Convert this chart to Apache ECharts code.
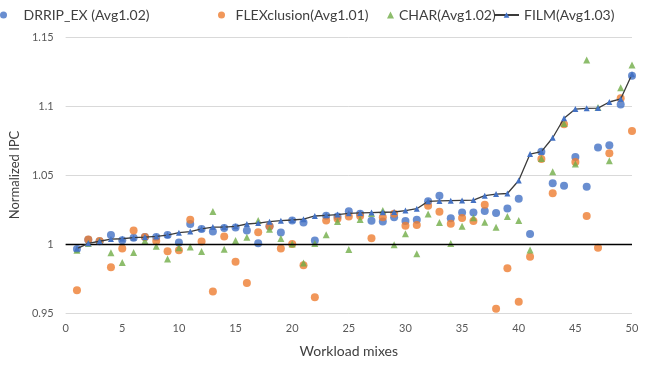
<!DOCTYPE html>
<html>
<head>
<meta charset="utf-8">
<script src="https://cdn.jsdelivr.net/npm/echarts@6/dist/echarts.min.js"></script>
<style>
  html, body { margin: 0; padding: 0; background: #ffffff; }
  #chart { width: 647px; height: 365px; }
</style>
</head>
<body>
<div id="chart"></div>
<script>
// Workload mix index (x) for every series
const mixes = [1, 2, 3, 4, 5, 6, 7, 8, 9, 10, 11, 12, 13, 14, 15, 16, 17, 18, 19, 20,
  21, 22, 23, 24, 25, 26, 27, 28, 29, 30, 31, 32, 33, 34, 35, 36, 37, 38, 39, 40,
  41, 42, 43, 44, 45, 46, 47, 48, 49, 50];

// Normalized IPC per policy
const drripEx = [0.9964, 1.003, 1.002, 1.0065, 1.0027, 1.0045, 1.005, 1.005, 1.0065, 1.001,
  1.0145, 1.0108, 1.009, 1.0116, 1.012, 1.0097, 1.0006, 1.0128, 1.0083, 1.017,
  1.0155, 1.0026, 1.0205, 1.02, 1.0238, 1.022, 1.0169, 1.0163, 1.0193, 1.0166,
  1.0175, 1.031, 1.0349, 1.0187, 1.0228, 1.0229, 1.024, 1.0225, 1.0258, 1.0328,
  1.0072, 1.0669, 1.044, 1.0423, 1.063, 1.0415, 1.07, 1.0715, 1.101, 1.122];

const flexclusion = [0.9664, 1.0033, 1.0022, 0.9832, 0.9968, 1.0098, 1.005, 1.0022, 0.9948, 0.9954,
  1.0175, 1.0018, 0.9655, 1.0055, 0.9871, 0.9718, 1.0085, 1.0128, 0.9967, 1.0,
  0.9846, 0.9615, 1.017, 1.0183, 1.02, 1.0202, 1.0042, 1.0193, 1.022, 1.0132,
  1.0137, 1.0277, 1.0234, 1.0146, 1.0188, 1.0166, 1.0284, 0.953, 0.9824, 0.9582,
  0.9908, 1.0616, 1.0367, 1.0867, 1.0594, 1.0203, 0.9973, 1.0657, 1.1056, 1.0819];

const charIpc = [0.9955, 1.0004, 1.002, 0.9936, 0.9866, 0.9938, 1.0024, 0.9983, 0.9892, 0.9973,
  0.9978, 0.9946, 1.0235, 0.9962, 1.0025, 1.0049, 1.017, 1.0106, 1.004, 1.0,
  0.9863, 1.0003, 1.0067, 1.0163, 0.996, 1.0178, 1.0221, 1.0242, 0.9994, 1.0074,
  0.9929, 1.0218, 1.0156, 1.0003, 1.0129, 1.019, 1.0157, 1.0121, 1.02, 1.017,
  0.9957, 1.062, 1.0524, 1.0874, 1.058, 1.1333, 1.099, 1.0604, 1.1133, 1.1297];

const film = [0.9966, 1.0005, 1.002, 1.0036, 1.0038, 1.0046, 1.005, 1.0055, 1.0065, 1.0082,
  1.009, 1.011, 1.0123, 1.0123, 1.0128, 1.0145, 1.0152, 1.0162, 1.0169, 1.0174,
  1.018, 1.0203, 1.0208, 1.0213, 1.0222, 1.0225, 1.0228, 1.023, 1.0232, 1.0242,
  1.0256, 1.0309, 1.0312, 1.0314, 1.0316, 1.0318, 1.035, 1.0362, 1.0366, 1.046,
  1.0652, 1.0669, 1.077, 1.0911, 1.0978, 1.0983, 1.0985, 1.1029, 1.1051, 1.123];

const seriesNames = ['DRRIP_EX (Avg1.02)', 'FLEXclusion(Avg1.01)', 'CHAR(Avg1.02)', 'FILM(Avg1.03)'];
const yTicks = [0.95, 1, 1.05, 1.1, 1.15];
const xTicks = [0, 5, 10, 15, 20, 25, 30, 35, 40, 45, 50];

const pairs = (vals) => mixes.map((x, i) => [x, vals[i]]);
const FONT = 'Lato, "Open Sans", sans-serif';
const LABEL = '#595959';
const BLUE = '#4472C4', ORANGE = '#ED7D31', GREEN = '#70AD47';

// One legend block per series so each key sits in its own slot
const legendText = { fontSize: 14, color: '#404040', fontFamily: FONT };
function legendItem(name, left, w, h, icon, extra) {
  return Object.assign({
    top: 8, left: left, padding: 0,
    itemWidth: w, itemHeight: h,
    textStyle: legendText,
    data: [icon ? { name: name, icon: icon } : { name: name }]
  }, extra || {});
}

const chart = echarts.init(document.getElementById('chart'), null, { renderer: 'canvas' });

chart.setOption({
  animation: false,
  backgroundColor: '#ffffff',
  textStyle: { fontFamily: FONT },
  legend: [
    legendItem(seriesNames[0], 0, 18, 7, 'circle', { textStyle: Object.assign({ padding: [0, 0, 0, 6] }, legendText) }),
    legendItem(seriesNames[1], 218, 18, 7, 'circle'),
    legendItem(seriesNames[2], 387, 7, 7, 'triangle'),
    legendItem(seriesNames[3], 493, 25, 7, null)
  ],
  grid: { left: 63, right: 15, top: 37, bottom: 52 },
  xAxis: {
    type: 'value',
    min: xTicks[0],
    max: xTicks[xTicks.length - 1],
    interval: 5,
    name: 'Workload mixes',
    nameLocation: 'middle',
    nameGap: 31,
    nameTextStyle: { fontSize: 14, color: '#404040' },
    axisLine: { show: false },
    axisTick: { show: false },
    splitLine: { show: false },
    axisLabel: { fontSize: 11, color: LABEL, margin: 10 }
  },
  yAxis: {
    type: 'value',
    min: yTicks[0],
    max: yTicks[yTicks.length - 1],
    interval: 0.05,
    name: 'Normalized IPC',
    nameLocation: 'middle',
    nameGap: 43,
    nameTextStyle: { fontSize: 13, color: '#404040' },
    axisLine: { show: false },
    axisTick: { show: false },
    splitLine: { lineStyle: { color: '#d9d9d9', width: 1 } },
    axisLabel: {
      fontSize: 11, color: LABEL, margin: 12,
      formatter: (v) => String(yTicks.find((t) => Math.abs(t - v) < 1e-6) ?? v)
    }
  },
  series: [
    {
      name: seriesNames[0],
      type: 'scatter',
      symbol: 'circle',
      symbolSize: 8,
      itemStyle: { color: BLUE },
      data: pairs(drripEx),
      // Baseline at normalized IPC = 1
      markLine: {
        silent: true,
        symbol: 'none',
        label: { show: false },
        lineStyle: { color: '#000000', width: 1.3, type: 'solid' },
        data: [{ yAxis: 1 }]
      },
      z: 2
    },
    {
      name: seriesNames[1],
      type: 'scatter',
      symbol: 'circle',
      symbolSize: 8,
      itemStyle: { color: ORANGE },
      data: pairs(flexclusion),
      z: 3
    },
    {
      name: seriesNames[2],
      type: 'scatter',
      symbol: 'triangle',
      symbolSize: 7,
      itemStyle: { color: GREEN },
      data: pairs(charIpc),
      z: 4
    },
    {
      name: seriesNames[3],
      type: 'line',
      symbol: 'triangle',
      symbolSize: 6,
      showAllSymbol: true,
      itemStyle: { color: BLUE, borderWidth: 0 },
      lineStyle: { color: '#3b3b3b', width: 1.3 },
      data: pairs(film),
      z: 5
    }
  ]
});
</script>
</body>
</html>
